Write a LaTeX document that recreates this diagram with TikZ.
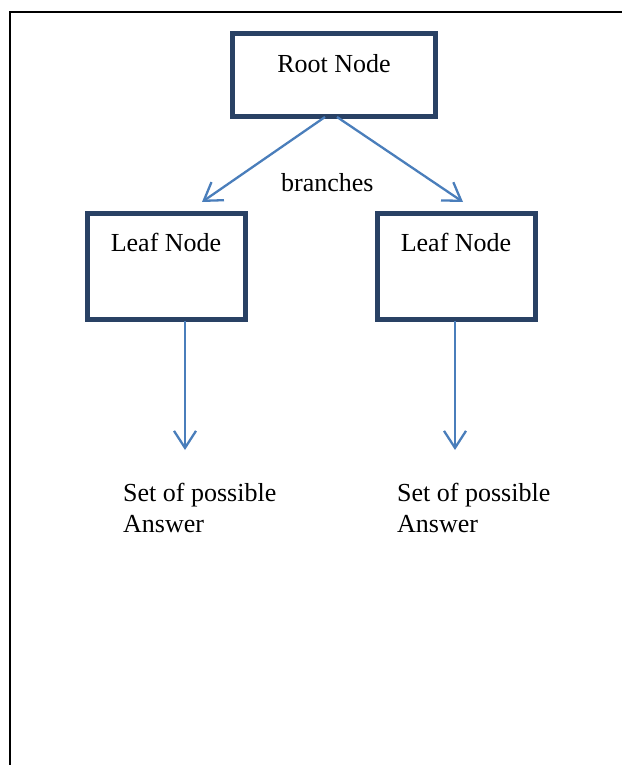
\documentclass[tikz,border=0pt]{standalone}
\usepackage{fontspec}
\setmainfont{Liberation Serif}
\usetikzlibrary{arrows.meta,calc}
\definecolor{boxblue}{RGB}{41,65,100}
\definecolor{arrowblue}{RGB}{74,126,187}
\tikzset{
  x=1pt, y=-1pt,
  treebox/.style={draw=boxblue, line width=5pt, rectangle, inner sep=0pt, fill=white},
  boxtext/.style={anchor=base, font=\fontsize{26}{31}\selectfont, inner sep=0pt},
  plaintext/.style={anchor=base west, align=left, font=\fontsize{26}{31}\selectfont, inner sep=0pt},
  branch/.style={draw=arrowblue, line width=2.3pt, -{Straight Barb[length=17pt,width=22pt,line width=2.3pt]}}
}
\begin{document}
\begin{tikzpicture}
\useasboundingbox (0,0) rectangle (622,765);
% outer frame (left and top edges)
\draw[line width=2pt] (9.5,765) -- (9.5,12) -- (622,12);
% boxes
\node[treebox, minimum width=203pt, minimum height=82.5pt] (root) at (334,75.25) {};
\node[treebox, minimum width=158pt, minimum height=106pt] (leafL) at (166,266) {};
\node[treebox, minimum width=158pt, minimum height=106pt] (leafR) at (456,266) {};
\node[boxtext] (roottxt) at ($(root.north)+(0,41)$) {Root Node};
\node[boxtext] (leafLtxt) at ($(leafL.north)+(0,41)$) {Leaf Node};
\node[boxtext] (leafRtxt) at ($(leafR.north)+(0,41)$) {Leaf Node};
% branch arrows
\coordinate (bLs) at ($(root.south)+(-9,-2)$);
\coordinate (bRs) at ($(root.south)+(3,-2)$);
\coordinate (bLe) at (202,202);
\coordinate (bRe) at (463,202);
\draw[branch] (bLs) -- (bLe);
\draw[branch] (bRs) -- (bRe);
\node[plaintext] (br) at (281,191) {branches};
% leaf arrows
\coordinate (aLs) at ($(leafL.south)+(19,-1)$);
\coordinate (aRs) at ($(leafR.south)+(-1,-1)$);
\coordinate (aLe) at (185,450);
\coordinate (aRe) at (455,450);
\draw[branch] (aLs) -- (aLe);
\draw[branch] (aRs) -- (aRe);
% answers
\node[plaintext] (ansL) at (123,532) {Set of possible\\Answer};
\node[plaintext] (ansR) at (397,532) {Set of possible\\Answer};
\end{tikzpicture}
\end{document}
